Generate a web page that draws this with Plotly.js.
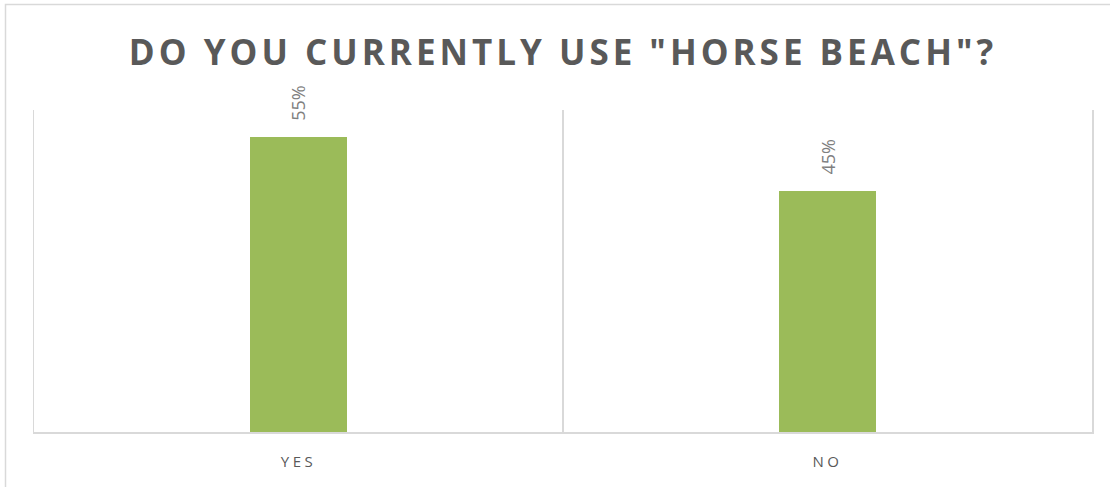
<!DOCTYPE html>
<html><head><meta charset="utf-8">
<script src="https://cdn.plot.ly/plotly-3.0.1.min.js"></script>
<style>
html,body{margin:0;padding:0;background:#fff;}
#chart .gtitle{letter-spacing:4px;}
#chart .xtick text{letter-spacing:3.5px;}
</style>
</head><body>
<div id="chart" style="width:1110px;height:487px;"></div>
<script>
const categories = ["YES", "NO"];
const values = [0.55, 0.45];
const labels = ["55%", "45%"];
const chartTitle = 'DO YOU CURRENTLY USE "HORSE BEACH"?';

const grid = "#d9d9d9";
const trace = {
  type: "bar",
  x: categories,
  y: values,
  width: 0.183,
  marker: {color: "#9bbb59"},
  hoverinfo: "x+y"
};
const annotations = categories.map((c, i) => ({
  x: c, y: values[i], xref: "x", yref: "y",
  text: labels[i], showarrow: false, textangle: -90,
  xanchor: "center", yanchor: "bottom", yshift: 14,
  font: {family: "Open Sans, sans-serif", size: 18, color: "#7f7f7f"}
}));
const layout = {
  width: 1110, height: 487,
  margin: {l: 34, r: 18, t: 110, b: 55},
  paper_bgcolor: "#fff", plot_bgcolor: "#fff",
  showlegend: false,
  title: {
    text: "<b>" + chartTitle + "</b>",
    x: 0.5, xref: "paper", xanchor: "center",
    y: 1 - 53/487, yref: "container", yanchor: "middle",
    font: {family: "Open Sans, sans-serif", size: 35, color: "#595959"}
  },
  xaxis: {
    type: "category", tickson: "boundaries",
    showgrid: true, gridcolor: grid, gridwidth: 1.5,
    showline: true, linecolor: grid, linewidth: 1.5,
    ticks: "", zeroline: false, ticklabelstandoff: 15,
    tickfont: {family: "Open Sans, sans-serif", size: 15, color: "#595959"}
  },
  yaxis: {
    range: [0, 0.6], showgrid: false, zeroline: false,
    showline: true, linecolor: grid, linewidth: 1.5, mirror: true,
    showticklabels: false, ticks: ""
  },
  annotations: annotations,
  shapes: [{
    type: "rect", xref: "paper", yref: "paper",
    x0: (5.5 - 34) / 1058, x1: (1130 - 34) / 1058,
    y0: (432 - 500) / 322, y1: (432 - 4.5) / 322,
    line: {color: grid, width: 1.5}, fillcolor: "rgba(0,0,0,0)", layer: "below"
  }],
  bargap: 0
};
Plotly.newPlot("chart", [trace], layout, {displayModeBar: false, staticPlot: true});
</script>
</body></html>
